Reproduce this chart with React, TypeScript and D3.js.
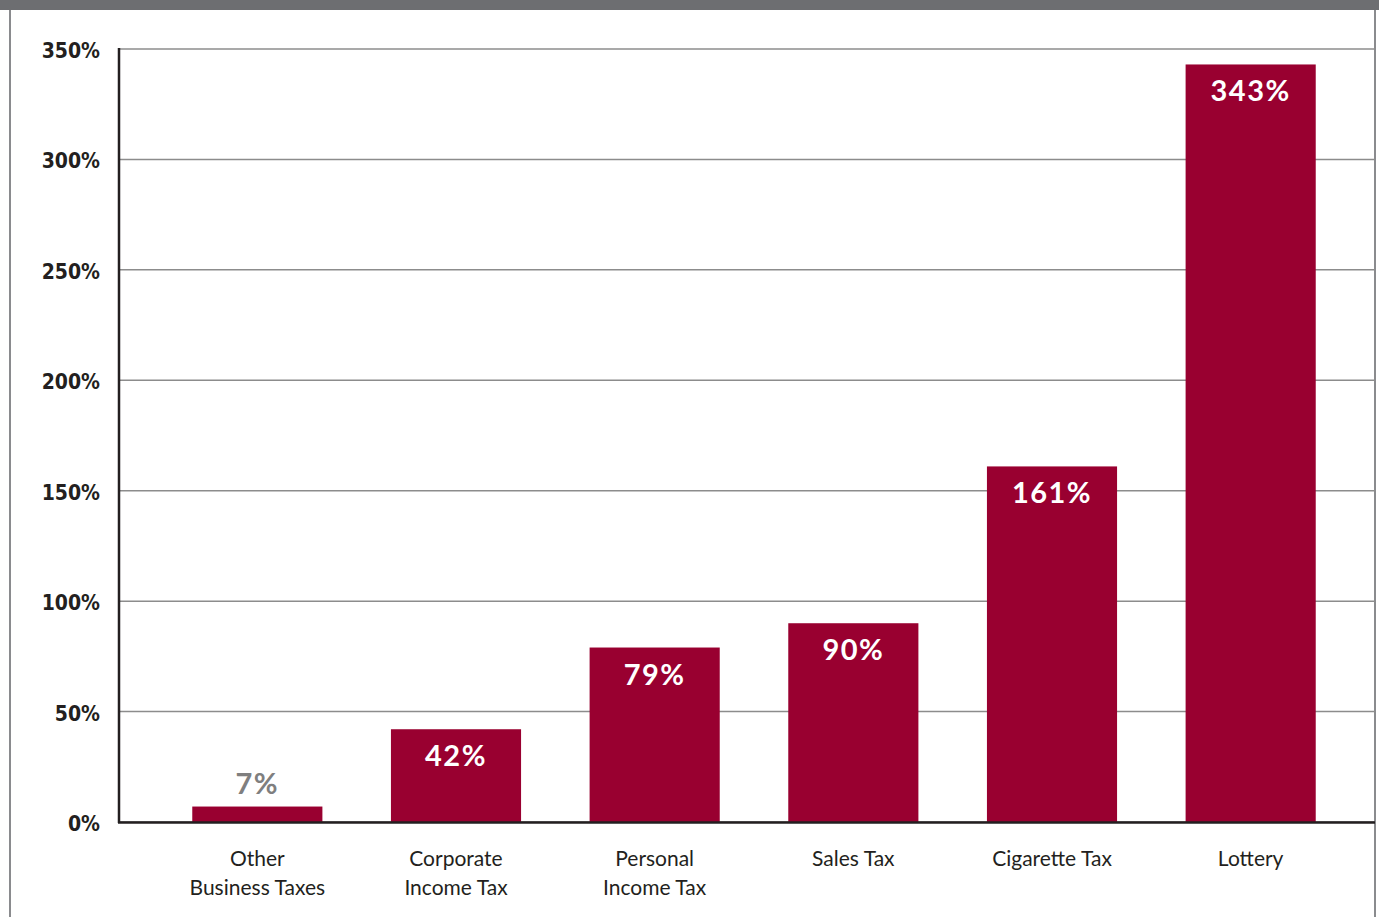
import React from "react";
import * as d3 from "d3";

const categories: string[][] = [
  ["Other", "Business Taxes"],
  ["Corporate", "Income Tax"],
  ["Personal", "Income Tax"],
  ["Sales Tax"],
  ["Cigarette Tax"],
  ["Lottery"],
];
const values: number[] = [7, 42, 79, 90, 161, 343];
const yTicks: number[] = [0, 50, 100, 150, 200, 250, 300, 350];

const W = 1379;
const H = 917;
const BAR = "#990030";

export default function App() {
  const y = d3.scaleLinear().domain([0, 350]).range([822, 49]);
  const x = d3
    .scaleBand<number>()
    .domain(values.map((_, i) => i))
    .range([158, 1350])
    .paddingInner(0.345)
    .paddingOuter(0.1725);

  return (
    <svg
      width={W}
      height={H}
      style={{ position: "absolute", left: 0, top: 0, display: "block", background: "#fff" }}
    >
      {/* frame */}
      <rect x={0} y={0} width={W} height={10} fill="#6d6e71" />
      <line x1={10} x2={10} y1={10} y2={H} stroke="#8a8b8e" strokeWidth={2} />
      <line x1={1375} x2={1375} y1={10} y2={H} stroke="#8a8b8e" strokeWidth={2} />

      {/* gridlines */}
      {yTicks.map((t) => (
        <line
          key={"g" + t}
          x1={119}
          x2={1375}
          y1={y(t)}
          y2={y(t)}
          stroke="#8c8c8c"
          strokeWidth={1.5}
        />
      ))}

      {/* tick labels */}
      {yTicks.map((t) => (
        <text
          key={"t" + t}
          x={100}
          y={y(t) + 2}
          textAnchor="end"
          dominantBaseline="central"
          fontFamily="'Liberation Sans Narrow', 'DejaVu Sans Condensed', 'Open Sans', sans-serif"
          fontWeight={700}
          fontSize={21}
          fill="#231f20"
        >
          {t}%
        </text>
      ))}

      {/* bars */}
      {values.map((v, i) => (
        <rect
          key={"b" + i}
          x={x(i)!}
          y={y(v)}
          width={x.bandwidth()}
          height={y(0) - y(v)}
          fill={BAR}
        />
      ))}

      {/* value labels */}
      {values.map((v, i) => {
        const cx = x(i)! + x.bandwidth() / 2;
        const inside = y(0) - y(v) > 50;
        return (
          <text
            key={"v" + i}
            x={cx}
            y={inside ? y(v) + 37 : y(v) - 13}
            textAnchor="middle"
            fontFamily="Lato, 'Open Sans', sans-serif"
            fontWeight={700}
            fontSize={29}
            letterSpacing={1.5}
            fill={inside ? "#ffffff" : "#7f7f7f"}
          >
            {v}%
          </text>
        );
      })}

      {/* axes */}
      <line x1={119} x2={119} y1={48} y2={823} stroke="#231f20" strokeWidth={2.5} />
      <line x1={118} x2={1375} y1={822.5} y2={822.5} stroke="#231f20" strokeWidth={2.5} />

      {/* category labels */}
      {categories.map((lines, i) => {
        const cx = x(i)! + x.bandwidth() / 2;
        return (
          <text
            key={"c" + i}
            textAnchor="middle"
            fontFamily="Lato, 'Open Sans', sans-serif"
            fontSize={21}
            fill="#231f20"
          >
            {lines.map((l, j) => (
              <tspan key={j} x={cx} y={866 + j * 29}>
                {l}
              </tspan>
            ))}
          </text>
        );
      })}
    </svg>
  );
}
